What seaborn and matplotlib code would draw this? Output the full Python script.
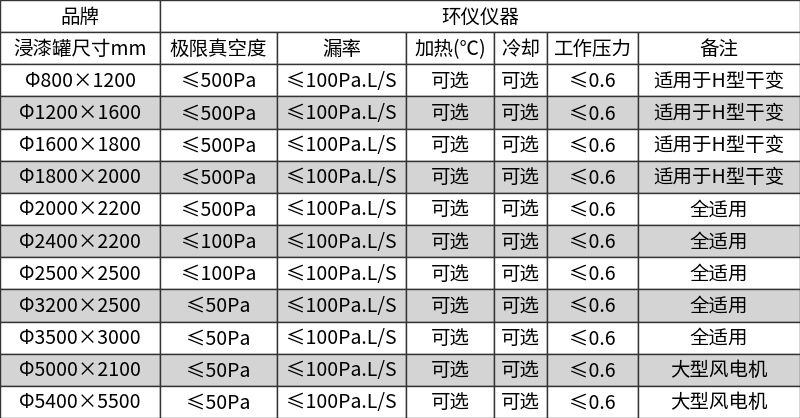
import matplotlib
matplotlib.use("Agg")
import matplotlib.pyplot as plt
import seaborn as sns
from matplotlib.patches import Rectangle

sns.set_style("white")
plt.rcParams['font.family'] = ['Noto Sans CJK SC', 'DejaVu Sans']

title_left = "品牌"
title_right = "环仪仪器"
headers = ["浸漆罐尺寸mm", "极限真空度", "漏率", "加热(℃)", "冷却", "工作压力", "备注"]
sizes = ["Φ800×1200", "Φ1200×1600", "Φ1600×1800", "Φ1800×2000", "Φ2000×2200",
         "Φ2400×2200", "Φ2500×2500", "Φ3200×2500", "Φ3500×3000", "Φ5000×2100", "Φ5400×5500"]
vacuum = ["≤500Pa"] * 5 + ["≤100Pa"] * 2 + ["≤50Pa"] * 4
leak = ["≤100Pa.L/S"] * 11
heating = ["可选"] * 11
cooling = ["可选"] * 11
pressure = ["≤0.6"] * 11
notes = ["适用于H型干变"] * 4 + ["全适用"] * 5 + ["大型风电机"] * 2

col_edges = [0, 160, 277, 406, 494, 547, 638, 800]
W, H = 800, 418
nrows = 13
rh = H / nrows

fig = plt.figure(figsize=(8, 4.18), dpi=100)
ax = fig.add_axes([0, 0, 1, 1])
ax.set_xlim(0, W)
ax.set_ylim(H, 0)
ax.axis("off")

def cell(x0, x1, r, text, fill="white"):
    y0 = r * rh
    ax.add_patch(Rectangle((x0, y0), x1 - x0, rh, facecolor=fill, edgecolor="#333333", lw=1))
    ax.text((x0 + x1) / 2, y0 + rh / 2 + 1, text, ha="center", va="center", fontsize=14, color="black")

cell(col_edges[0], col_edges[1], 0, title_left)
cell(col_edges[1], col_edges[-1], 0, title_right)
for j, h in enumerate(headers):
    cell(col_edges[j], col_edges[j + 1], 1, h)
cols = [sizes, vacuum, leak, heating, cooling, pressure, notes]
for i in range(len(sizes)):
    fill = "#d4d4d4" if i % 2 == 1 else "white"
    for j, c in enumerate(cols):
        cell(col_edges[j], col_edges[j + 1], i + 2, c[i], fill)

fig.savefig("out.png", dpi=100)
